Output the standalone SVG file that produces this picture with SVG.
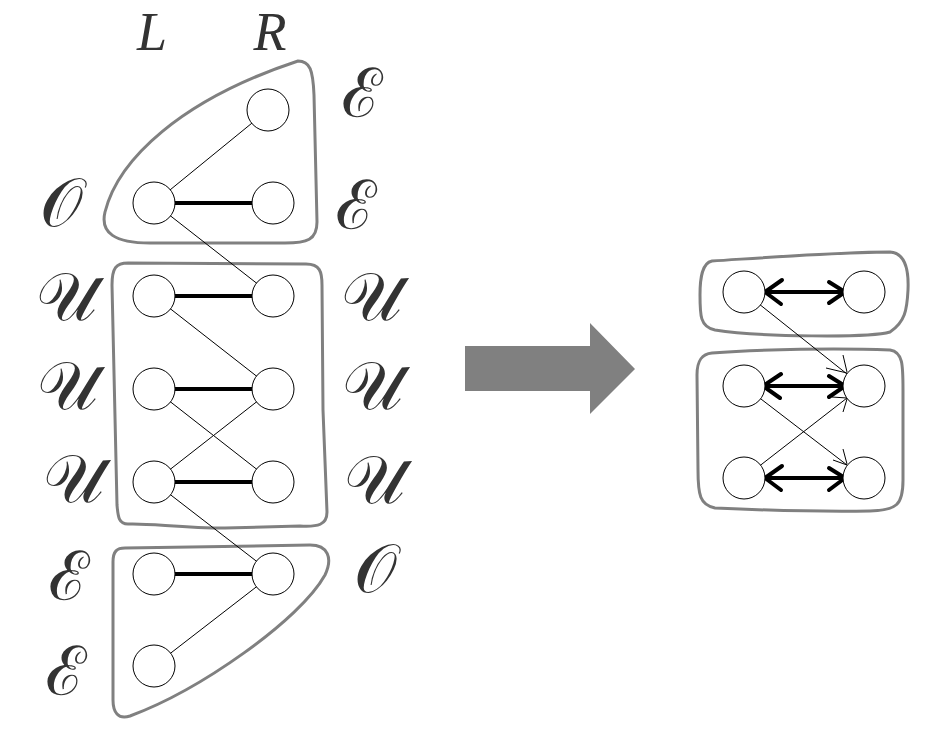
<svg xmlns="http://www.w3.org/2000/svg" width="944" height="731" viewBox="0 0 944 731">
<style>
.n{fill:#fff;stroke:#000;stroke-width:1}
.thin{stroke:#000;stroke-width:1;fill:none}
.thick{stroke:#000;stroke-width:4;fill:none}
.blob{fill:none;stroke:#808080;stroke-width:3;stroke-linejoin:round}
.lab{font-family:"DejaVu Serif","Noto Sans",serif;font-size:68px;fill:#333;text-anchor:middle}
.lr{font-family:"Liberation Serif",serif;font-style:italic;font-size:54px;fill:#333;text-anchor:middle}
.dbl{stroke:#000;stroke-width:4;fill:none;stroke-linecap:round;stroke-linejoin:round}
</style>
<rect width="944" height="731" fill="#fff"/>
<g id="labels">
<text class="lr" x="152" y="50">L</text>
<text class="lr" x="270" y="50">R</text>
<text class="lab" x="61" y="226">𝒪</text>
<text class="lab" x="362" y="117">ℰ</text>
<text class="lab" x="356" y="229">ℰ</text>
<text class="lab" x="66" y="320">𝒰</text>
<text class="lab" x="67" y="409">𝒰</text>
<text class="lab" x="73" y="502">𝒰</text>
<text class="lab" x="371" y="320">𝒰</text>
<text class="lab" x="372" y="409">𝒰</text>
<text class="lab" x="374" y="503">𝒰</text>
<text class="lab" x="69" y="600">ℰ</text>
<text class="lab" x="66" y="695">ℰ</text>
<text class="lab" x="375" y="592">𝒪</text>
</g>
<g id="groups">
<path id="g-top" class="blob" d="M298,61 C310,61 313,70 314,95 L317,222 C317,240 307,243 285,243 L150,243 C115,243 100,233 105,212 C118,160 180,100 298,61 Z"/>
<path id="g-mid" class="blob" d="M128,263 L306,264 C320,264 322,272 322,285 L323,410 L327,512 C327,525 318,527 300,526 L225,528 C180,528 150,523 128,524 C118,524 118,515 117,505 L112,285 C112,268 116,263 128,263 Z"/>
<path id="g-bot" class="blob" d="M125,548 L310,545 C328,545 333,558 325,575 C300,620 200,690 130,716 C118,720 113,712 113,700 L113,562 C113,551 117,548 125,548 Z"/>
<path id="g-rtop" class="blob" d="M712,261 C760,258 840,252 890,252 C905,253 909,268 908,290 C907,310 905,322 890,332 C870,338 760,337 715,330 C700,327 700,315 700,295 C700,278 702,263 712,261 Z"/>
<path id="g-rbot" class="blob" d="M712,353 C760,349 840,348 890,350 C903,352 903,365 903,390 L903,480 C903,505 897,510 870,511 C820,512 760,510 715,508 C700,505 698,495 698,470 L697,375 C697,360 702,354 712,353 Z"/>
</g>
<g id="connectors">
<line class="thin" x1="154" y1="203" x2="268" y2="110"/>
<line class="thick" x1="154" y1="203" x2="273" y2="203"/>
<line class="thin" x1="154" y1="203" x2="273" y2="296"/>
<line class="thick" x1="154" y1="296" x2="273" y2="296"/>
<line class="thin" x1="154" y1="296" x2="273" y2="389"/>
<line class="thick" x1="154" y1="389" x2="273" y2="389"/>
<line class="thin" x1="154" y1="389" x2="273" y2="482"/>
<line class="thin" x1="154" y1="482" x2="273" y2="389"/>
<line class="thick" x1="154" y1="482" x2="273" y2="482"/>
<line class="thin" x1="154" y1="482" x2="273" y2="574"/>
<line class="thick" x1="154" y1="574" x2="273" y2="574"/>
<line class="thin" x1="273" y1="574" x2="154" y2="666"/>
<line class="thin" x1="744" y1="292" x2="847" y2="374"/>
<line class="thin" x1="744" y1="386" x2="847" y2="465"/>
<line class="thin" x1="744" y1="478" x2="847" y2="398"/>
<path class="dbl" d="M765,292 L845,292 M782,280 L765,292 L781,304 M829,282 L845,292 L829,303"/>
<path class="dbl" d="M763,386 L845,386 M781,374 L763,386 L780,398 M829,376 L845,386 L829,397"/>
<path class="dbl" d="M765,478 L845,478 M782,466 L765,478 L781,490 M829,468 L845,478 L829,490"/>
<path class="thin" d="M826,368 L847,373 M843,355 L847,372"/>
<path class="thin" d="M833,460 L847,465 M843,449 L847,464"/>
<path class="thin" d="M832,397 L847,398 M843,412 L847,399"/>
</g>
<g id="nodes">
<circle id="n1" class="n" cx="268" cy="110" r="21"/>
<circle id="n2" class="n" cx="154" cy="203" r="21"/>
<circle id="n3" class="n" cx="273" cy="203" r="21"/>
<circle id="n4" class="n" cx="154" cy="296" r="21"/>
<circle id="n5" class="n" cx="273" cy="296" r="21"/>
<circle id="n6" class="n" cx="154" cy="389" r="21"/>
<circle id="n7" class="n" cx="273" cy="389" r="21"/>
<circle id="n8" class="n" cx="154" cy="482" r="21"/>
<circle id="n9" class="n" cx="273" cy="482" r="21"/>
<circle id="n10" class="n" cx="154" cy="574" r="21"/>
<circle id="n11" class="n" cx="273" cy="574" r="21"/>
<circle id="n12" class="n" cx="154" cy="666" r="21"/>
<circle id="m1" class="n" cx="744" cy="292" r="21"/>
<circle id="m2" class="n" cx="864" cy="292" r="21"/>
<circle id="m3" class="n" cx="744" cy="386" r="21"/>
<circle id="m4" class="n" cx="864" cy="386" r="21"/>
<circle id="m5" class="n" cx="744" cy="478" r="21"/>
<circle id="m6" class="n" cx="864" cy="478" r="21"/>
</g>
<g id="big-arrow">
<path fill="#808080" d="M465,346 L590,346 L590,323 L635,369 L590,414 L590,391 L465,391 Z"/>
</g>
</svg>
